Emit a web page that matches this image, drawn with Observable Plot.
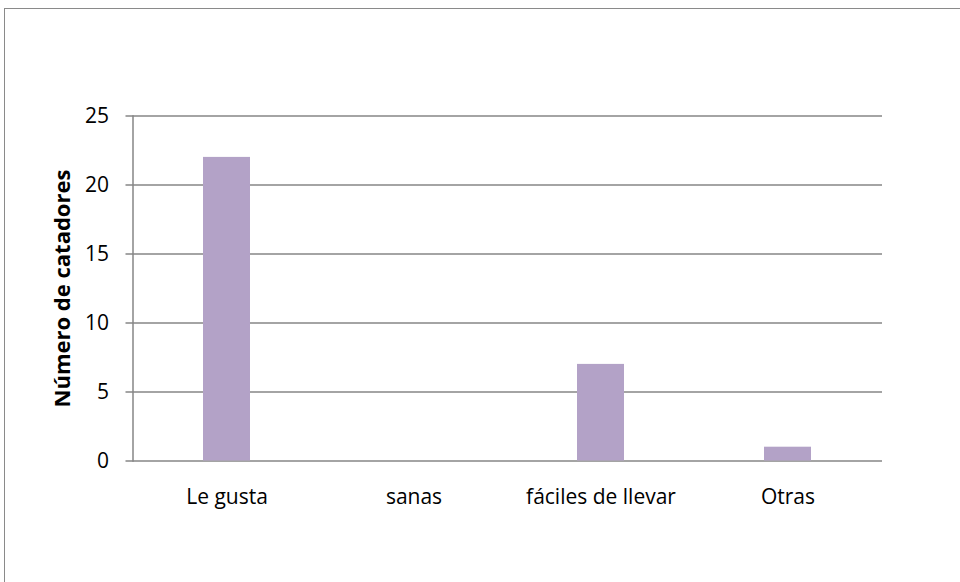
<!DOCTYPE html>
<html>
<head>
<meta charset="utf-8">
<script src="https://cdn.jsdelivr.net/npm/d3@7"></script>
<script src="https://cdn.jsdelivr.net/npm/@observablehq/plot@0.6"></script>
<style>
  html, body { margin: 0; padding: 0; background: #fff; overflow: hidden; }
  #wrap { position: relative; width: 960px; height: 582px; }
  #border { position: absolute; left: 4px; top: 8px; width: 1000px; height: 1000px; border: 1.5px solid #8a8a8a; box-sizing: border-box; }
  #chart { position: absolute; left: 0; top: 0; }
</style>
</head>
<body>
<div id="wrap">
  <div id="border"></div>
  <div id="chart"></div>
</div>
<script>
const categories = ["Le gusta", "sanas", "fáciles de llevar", "Otras"];
const values = [22, 0, 7, 1];
const yTicks = [0, 5, 10, 15, 20, 25];
const yLabel = "Número de catadores";

const data = categories.map((c, i) => ({category: c, value: values[i]}));

const chart = Plot.plot({
  width: 960,
  height: 582,
  marginLeft: 132.5,
  marginRight: 78,
  marginTop: 115.5,
  marginBottom: 121.5,
  style: {fontFamily: "'Open Sans', sans-serif", fontSize: "20px", color: "#000", background: "transparent"},
  x: {domain: categories, paddingInner: 0.75, paddingOuter: 0.375, label: null},
  y: {domain: [0, 25], label: null},
  marks: [
    Plot.ruleY(yTicks, {stroke: "#868686", strokeWidth: 1.5, insetLeft: -7}),
    Plot.barY(data, {x: "category", y: "value", fill: "#b3a2c7"}),
    Plot.frame({anchor: "left", stroke: "#868686", strokeWidth: 1.5}),
    Plot.axisY({ticks: yTicks, tickSize: 0, tickPadding: 24, fontSize: 21, label: null}),
    Plot.axisX({tickSize: 0, tickPadding: 28, fontSize: 21, label: null}),
    Plot.text([yLabel], {
      frameAnchor: "left", dx: -70, rotate: -90, textAnchor: "middle", fontWeight: "bold", fontSize: 22, fill: "#000"
    })
  ]
});
document.getElementById("chart").appendChild(chart);
</script>
</body>
</html>
